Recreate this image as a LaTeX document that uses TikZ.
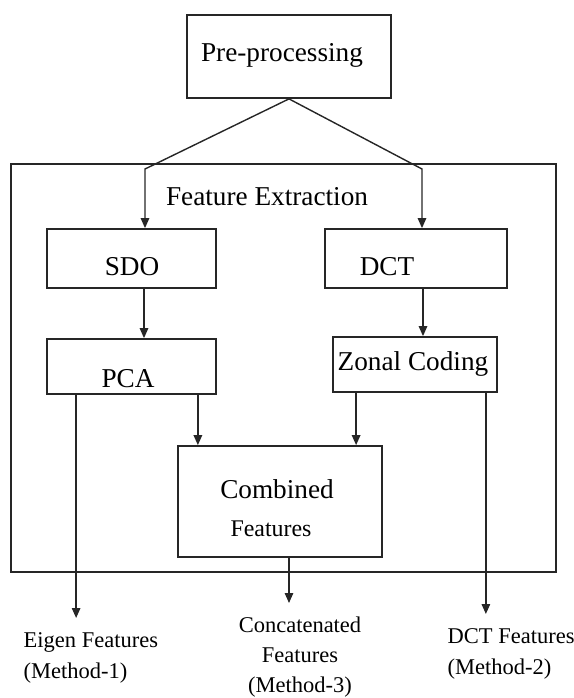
\documentclass[tikz,border=0pt]{standalone}
\usepackage{amsmath}
\usepackage{fontspec}
\setmainfont{Liberation Serif}
\usetikzlibrary{arrows.meta}

\begin{document}
\begin{tikzpicture}[
    line width=0.8pt, draw=black!85,
    >={Triangle[length=0.2cm, width=0.17cm]},
    block/.style={draw=black!85, line width=1pt, inner sep=0pt},
    blocktext/.style={font=\fontsize{15.5}{18}\selectfont, inner sep=0pt, text height=10.5pt, text depth=0pt},
    outtext/.style={font=\fontsize{12.8}{17.6}\selectfont, align=left, inner xsep=0pt, inner ysep=0.27cm}
]

    \useasboundingbox (0, 0) rectangle (11.48, -13.96);

    % Pre-processing
    \node[block, minimum width=4.08cm, minimum height=1.66cm] (pre) at (5.78, -1.13) {};
    \node[blocktext] (preText) at (5.64, -1.04) {Pre-processing};

    % Feature Extraction frame
    \node[block, minimum width=10.90cm, minimum height=8.16cm] (extract) at (5.67, -7.36) {};
    \node[blocktext] (extractText) at (5.34, -3.93) {Feature Extraction};

    % SDO and DCT
    \node[block, minimum width=3.38cm, minimum height=1.18cm] (sdo) at (2.63, -5.17) {};
    \node[blocktext] (sdoText) at (2.64, -5.33) {SDO};
    \node[block, minimum width=3.64cm, minimum height=1.18cm] (dct) at (8.32, -5.17) {};
    \node[blocktext] (dctText) at (7.74, -5.33) {DCT};

    % PCA and Zonal Coding
    \node[block, minimum width=3.38cm, minimum height=1.10cm] (pca) at (2.63, -7.33) {};
    \node[blocktext] (pcaText) at (2.56, -7.57) {PCA};
    \node[block, minimum width=3.28cm, minimum height=1.10cm] (zonal) at (8.30, -7.29) {};
    \node[blocktext] (zonalText) at (8.26, -7.23) {Zonal Coding};

    % Combined Features
    \node[block, minimum width=4.08cm, minimum height=2.22cm] (comb) at (5.60, -10.03) {};
    \node[blocktext] (combText) at (5.54, -9.78) {Combined};
    \node[blocktext, font=\fontsize{13.6}{16}\selectfont, text height=9.2pt] (combText2) at (5.42, -10.57) {Features};

    % Outputs
    \node[outtext, anchor=north west] (eigen) at (0.46, -12.36) {Eigen Features\\(Method-1)};
    \node[outtext, align=center, anchor=north, font=\fontsize{12.8}{17}\selectfont] (concat) at (6.00, -12.06) {Concatenated\\Features\\(Method-3)};
    \node[outtext, anchor=north west] (dctOut) at (8.94, -12.28) {DCT Features\\(Method-2)};

    % Connections
    \coordinate (splitL) at (2.90, -3.38);
    \coordinate (splitR) at (8.44, -3.38);
    \draw[->] (pre.south) -- (splitL) -- (splitL |- sdo.north);
    \draw[->] (pre.south) -- (splitR) -- (splitR |- dct.north);
    \draw[->] ([xshift=0.25cm]sdo.south) -- ([xshift=0.25cm]pca.north);
    \draw[->] ([xshift=0.14cm]dct.south) -- ([xshift=0.16cm]zonal.north);

    \coordinate (pcaL) at ([xshift=0.60cm]pca.south west);
    \coordinate (pcaR) at ([xshift=-0.38cm]pca.south east);
    \coordinate (zonalL) at ([xshift=0.48cm]zonal.south west);
    \coordinate (zonalR) at ([xshift=-0.24cm]zonal.south east);
    \coordinate (combOut) at ([xshift=0.18cm]comb.south);
    \draw[->] (pcaR) -- (pcaR |- comb.north);
    \draw[->] (zonalL) -- (zonalL |- comb.north);
    \draw[->] (pcaL) -- (pcaL |- eigen.north);
    \draw[->] (combOut) -- (combOut |- concat.north);
    \draw[->] (zonalR) -- (zonalR |- dctOut.north);

\end{tikzpicture}
\end{document}
